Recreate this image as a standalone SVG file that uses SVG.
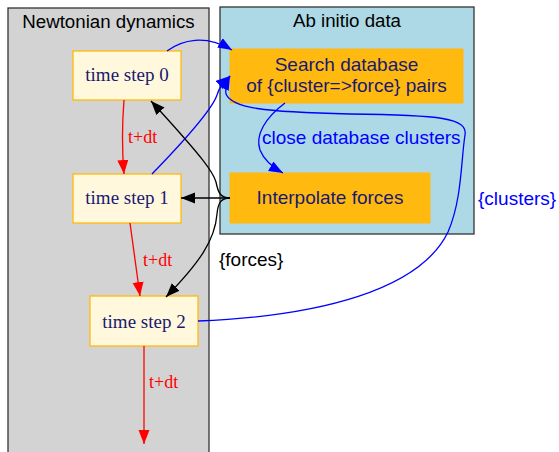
<svg xmlns="http://www.w3.org/2000/svg" width="559" height="452" viewBox="0 0 559 452">
<style>
.cl{stroke:#333;stroke-width:1.3}
.ts{fill:#fff8dc;stroke:#ffb90f;stroke-width:1.3}
.ab{fill:#ffb90f;stroke:#ffb90f}
.tt{font-family:"Liberation Serif",serif;font-size:19px;fill:#191970;text-anchor:middle}
.st{font-family:"Liberation Sans",sans-serif;font-size:19px;fill:#191970;text-anchor:middle}
.ti{font-family:"Liberation Sans",sans-serif;font-size:18.7px;fill:#000;text-anchor:middle}
.e{fill:none;stroke-width:1.3}
.r{stroke:#f00}.b{stroke:#00f}.k{stroke:#000}
.lr{font-family:"Liberation Serif",serif;font-size:18px;fill:#f00}
.lb{font-family:"Liberation Sans",sans-serif;font-size:19px;fill:#00f}
.lk{font-family:"Liberation Sans",sans-serif;font-size:19px;fill:#000}
</style>
<defs>
<marker id="ar" markerUnits="userSpaceOnUse" markerWidth="15" markerHeight="12" refX="14" refY="5.5" orient="auto"><path d="M0,0L14,5.5L0,11z" fill="#f00"/></marker>
<marker id="ab" markerUnits="userSpaceOnUse" markerWidth="15" markerHeight="12" refX="14" refY="5.5" orient="auto"><path d="M0,0L14,5.5L0,11z" fill="#00f"/></marker>
<marker id="ak" markerUnits="userSpaceOnUse" markerWidth="15" markerHeight="12" refX="14" refY="5.5" orient="auto"><path d="M0,0L14,5.5L0,11z" fill="#000"/></marker>
</defs>
<g id="cluster_newton">
<rect class="cl" x="8" y="8" width="201" height="460" fill="#d3d3d3"/>
<text class="ti" x="108.5" y="28">Newtonian dynamics</text>
</g>
<g id="cluster_abinitio">
<rect class="cl" x="220" y="7" width="254" height="227" fill="#add8e6"/>
<text class="ti" x="347" y="27">Ab initio data</text>
</g>
<g id="ts0"><rect class="ts" x="73" y="51" width="108" height="49"/><text class="tt" x="127" y="81">time step 0</text></g>
<g id="ts1"><rect class="ts" x="73" y="174" width="108" height="49"/><text class="tt" x="127" y="204">time step 1</text></g>
<g id="ts2"><rect class="ts" x="90" y="296" width="108" height="50"/><text class="tt" x="144" y="328">time step 2</text></g>
<g id="search"><rect class="ab" x="230" y="49" width="233" height="54"/><text class="st" x="346.5" y="71">Search database</text><text class="st" x="346.5" y="92">of {cluster=&gt;force} pairs</text></g>
<g id="interp"><rect class="ab" x="230" y="173" width="200" height="50"/><text class="st" x="330" y="204">Interpolate forces</text></g>
<g id="edges">
<path class="e r" d="M124,100C122,125 122,150 124,174" marker-end="url(#ar)"/>
<text class="lr" x="128" y="143">t+dt</text>
<path class="e r" d="M130,223L140,296" marker-end="url(#ar)"/>
<text class="lr" x="143" y="266">t+dt</text>
<path class="e r" d="M144,346L144,444" marker-end="url(#ar)"/>
<text class="lr" x="149" y="388">t+dt</text>
<path class="e b" d="M167,51C182,40 205,34 232,50" marker-end="url(#ab)"/>
<path class="e b" d="M152,174C185,140 212,110 217,95C219,88 223,82 230,76" marker-end="url(#ab)"/>
<path class="e b" d="M198,321C320,316 420,290 448,232C462,200 461,160 465,135C468,118 440,115 350,114C262,112 232,108 226,94C225,88 227,82 230,76" marker-end="url(#ab)"/>
<text class="lb" x="478" y="205">{clusters}</text>
<path class="e b" d="M285,103C265,118 255,135 260,150C264,160 272,167 283,173" marker-end="url(#ab)"/>
<text class="lb" x="262" y="144">close database clusters</text>
<path class="e k" d="M230,198L181,198" marker-end="url(#ak)"/>
<path class="e k" d="M230,198C220,198 218,192 216,182C213,172 205,160 151,101" marker-end="url(#ak)"/>
<path class="e k" d="M230,198C220,198 218,204 217,214C215,240 200,262 166,297" marker-end="url(#ak)"/>
<text class="lk" x="219" y="266">{forces}</text>
</g>
</svg>
